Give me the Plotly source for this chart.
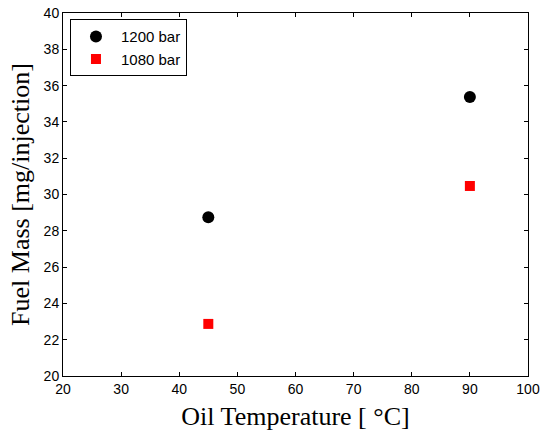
import plotly.graph_objects as go

oil_temp = [45, 90]
mass_1200 = [28.75, 35.37]
mass_1080 = [22.87, 30.47]
x_ticks = [20, 30, 40, 50, 60, 70, 80, 90, 100]
y_ticks = [20, 22, 24, 26, 28, 30, 32, 34, 36, 38, 40]

fig = go.Figure()
fig.add_trace(go.Scatter(
    x=oil_temp, y=mass_1200, mode="markers", name="1200 bar",
    marker=dict(symbol="circle", size=12, color="black"),
))
fig.add_trace(go.Scatter(
    x=oil_temp, y=mass_1080, mode="markers", name="1080 bar",
    marker=dict(symbol="square", size=10, color="#ff0000"),
))

axis_common = dict(
    showgrid=False, zeroline=False, showline=True, linecolor="black",
    linewidth=1, mirror="ticks", ticks="inside", ticklen=4,
    tickcolor="black", automargin=False,
    tickfont=dict(family="Liberation Sans, Arial", size=14, color="black"),
)
title_font = dict(family="Liberation Serif, Times New Roman", size=26, color="black")

fig.update_layout(
    width=544, height=432,
    margin=dict(l=63, r=16, t=13, b=56),
    paper_bgcolor="white", plot_bgcolor="white",
    xaxis=dict(range=[20, 100], tickvals=x_ticks,
               title=dict(text="Oil Temperature [ °C]", standoff=11, font=title_font),
               **axis_common),
    yaxis=dict(range=[20, 40], tickvals=y_ticks,
               title=dict(text="Fuel Mass [mg/injection]", standoff=6, font=title_font),
               **axis_common),
    legend=dict(x=0.015, y=0.983, xanchor="left", yanchor="top",
                bordercolor="black", borderwidth=1, bgcolor="white",
                font=dict(family="Liberation Sans, Arial", size=15, color="black"),
                tracegroupgap=0, itemwidth=40),
    showlegend=True,
)

fig.write_html("out.html")
